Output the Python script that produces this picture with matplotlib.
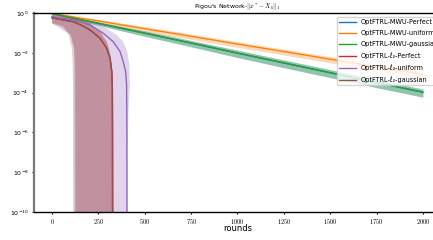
import matplotlib.pyplot as plt
import numpy as np

plt.rcParams['mathtext.fontset'] = 'cm'

# MWU runs (log-linear decay), sampled every 250 rounds
t_mwu = [0, 250, 500, 750, 1000, 1250, 1500, 1750, 2000]
mwu_perfect = [0.95, 0.30, 0.097, 0.031, 0.0097, 0.0031, 0.001, 0.00032, 0.000105]
mwu_uniform = [0.95, 0.40, 0.163, 0.068, 0.0277, 0.0116, 0.0048, 0.00197, 0.00083]
mwu_gaussian = [0.95, 0.30, 0.097, 0.031, 0.0097, 0.0031, 0.001, 0.00032, 0.000105]
# spread of the shaded band, as fraction of the mean
spread_perfect = [0.05, 0.2, 0.3, 0.35, 0.4, 0.42, 0.43, 0.44, 0.44]
spread_uniform = [0.05, 0.2, 0.28, 0.3, 0.32, 0.33, 0.34, 0.35, 0.35]
spread_gaussian = [0.05, 0.2, 0.3, 0.35, 0.4, 0.42, 0.43, 0.44, 0.44]

# l2 runs: mean curves (drop to ~0 after a few hundred rounds)
t_l2_perfect = [0, 50, 115, 160, 205, 259, 295, 313, 322, 325, 326, 327, 2000]
l2_perfect = [0.575, 0.468, 0.363, 0.24, 0.141, 0.0537, 0.017, 0.00525, 0.00112, 2.5e-4, 1e-6, 1e-16, 1e-16]
t_l2_uniform = [0, 115, 205, 277, 330, 367, 384, 397, 402, 403.5, 404.5, 2000]
l2_uniform = [0.66, 0.447, 0.251, 0.0955, 0.0363, 0.0115, 0.00355, 0.00112, 2.5e-4, 1e-6, 1e-16, 1e-16]
t_l2_gaussian = t_l2_perfect
l2_gaussian = l2_perfect

# band edges of the l2 runs
t_up_perfect = [0, 115, 205, 259, 295, 315, 326, 329, 330, 331]
up_perfect = [0.89, 0.60, 0.30, 0.115, 0.0363, 0.00776, 0.00112, 2.5e-4, 1e-6, 1e-16]
t_lo_perfect = [0, 60, 100, 118, 124, 126, 127]
lo_perfect = [0.32, 0.22, 0.08, 0.017, 0.0035, 2.5e-4, 1e-16]

t_up_uniform = [0, 115, 205, 295, 349, 384, 406, 417, 420, 412, 408, 406]
up_uniform = [0.95, 0.537, 0.363, 0.17, 0.079, 0.0363, 0.0115, 0.00245, 2.5e-4, 1e-5, 1e-7, 1e-16]
t_lo_uniform = [0, 100, 120, 125]
lo_uniform = [0.3, 0.08, 0.017, 1e-16]

t_up_gaussian = t_up_perfect
up_gaussian = up_perfect
t_lo_gaussian = [0, 55, 90, 107, 111, 113, 114]
lo_gaussian = [0.30, 0.2, 0.08, 0.017, 0.0035, 2.5e-4, 1e-16]

labels = ['OptFTRL-MWU-Perfect', 'OptFTRL-MWU-uniform', 'OptFTRL-MWU-gaussian',
          'OptFTRL-ℓ₂-Perfect', 'OptFTRL-ℓ₂-uniform', 'OptFTRL-ℓ₂-gaussian']

fig = plt.figure(figsize=(4.33, 2.4), dpi=100)
ax = fig.add_axes([0.0774, 0.1167, 0.942, 0.829])

# MWU
for i, (m, s) in enumerate([(mwu_perfect, spread_perfect), (mwu_uniform, spread_uniform),
                            (mwu_gaussian, spread_gaussian)]):
    m = np.array(m)
    s = np.array(s)
    ax.plot(t_mwu, m, color=f'C{i}', lw=1.0, label=labels[i])
    ax.fill_between(t_mwu, m * (1 - s), m * (1 + s), color=f'C{i}', alpha=0.3, lw=0)

# l2
l2 = [(t_l2_perfect, l2_perfect, t_up_perfect, up_perfect, t_lo_perfect, lo_perfect),
      (t_l2_uniform, l2_uniform, t_up_uniform, up_uniform, t_lo_uniform, lo_uniform),
      (t_l2_gaussian, l2_gaussian, t_up_gaussian, up_gaussian, t_lo_gaussian, lo_gaussian)]
for j, (tm, m, tu, u, tl, lo) in enumerate(l2):
    c = f'C{j + 3}'
    ax.plot(tm, m, color=c, lw=1.0, label=labels[j + 3])
    ax.fill(np.r_[tu, tl[::-1]], np.r_[u, lo[::-1]], color=c, alpha=0.28, lw=0)

ax.set_yscale('log')
ax.set_ylim(1e-10, 1)
ax.set_xlim(-100, 2100)
ax.set_xticks([0, 250, 500, 750, 1000, 1250, 1500, 1750, 2000])
ax.set_xticklabels([f'${v}$' for v in [0, 250, 500, 750, 1000, 1250, 1500, 1750, 2000]])
ax.set_yticks([1e0, 1e-2, 1e-4, 1e-6, 1e-8, 1e-10])
ax.yaxis.set_minor_locator(plt.NullLocator())
ax.tick_params(labelsize=4.5, length=1.5, width=0.8, pad=2)

ax.spines['left'].set_color('#777777')
ax.spines['left'].set_linewidth(1.6)
ax.spines['top'].set_linewidth(1.0)
ax.spines['bottom'].set_linewidth(1.0)

ax.set_title(r"Pigou's Network-$\|x^*-X_k\|_1$", fontsize=4.5, pad=2)
ax.set_xlabel('rounds', fontsize=6, labelpad=-1)
ax.legend(loc='upper left', bbox_to_anchor=(337 / 433, 1 - 17 / 240),
          bbox_transform=fig.transFigure, borderaxespad=0,
          fontsize=4.7, handlelength=2.6, borderpad=0.3,
          labelspacing=0.8, handletextpad=0.75)

fig.savefig('out.png', dpi=100)
